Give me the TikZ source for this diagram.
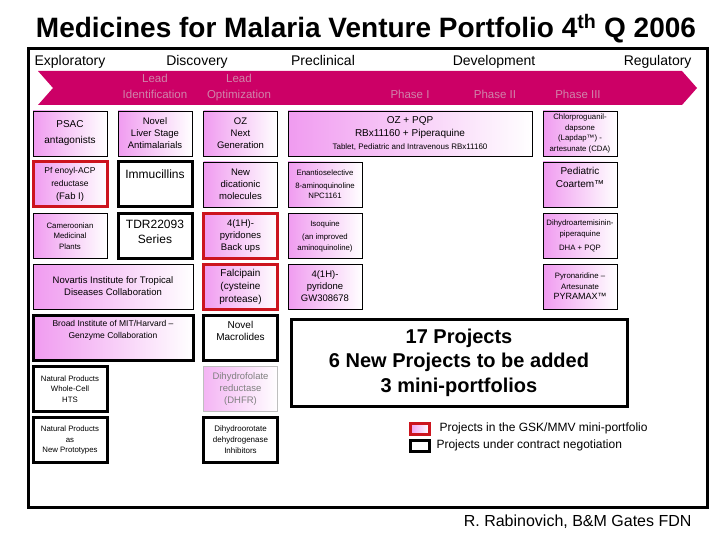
\documentclass[tikz,border=0pt]{standalone}
\usepackage{fontspec}
\setmainfont{Liberation Sans}
\usepackage{xcolor}
\definecolor{arrowpink}{RGB}{204,0,102}
\definecolor{boxpink}{RGB}{240,155,240}
\definecolor{keyred}{RGB}{204,20,30}
\definecolor{subtext}{RGB}{208,132,170}
\usetikzlibrary{positioning}
% text pushed to the top of a cell
\newcommand{\uptext}[3][70pt]{\parbox[c][#2][t]{#1}{\centering #3}}

\begin{document}
\begin{tikzpicture}[x=1pt,y=-1pt]
  \tikzset{
    cell/.style={minimum width=74pt,minimum height=45pt,inner sep=1pt,
      align=center,font=\fontsize{9.5}{12}\selectfont},
    plainbox/.style={cell,draw,line width=0.8pt,left color=boxpink,right color=white},
    redbox/.style={cell,draw=keyred,line width=3pt,left color=boxpink,right color=white},
    blackbox/.style={cell,draw,line width=3pt,fill=white},
    greybox/.style={cell,draw=gray!50,line width=0.8pt,left color=boxpink!75,
      right color=white,text=gray},
    tiny/.style={font=\fontsize{7.8}{10.5}\selectfont},
    stage/.style={anchor=base,font=\fontsize{14}{16}\selectfont},
    substage/.style={anchor=base,text=subtext,align=center,
      font=\fontsize{11.5}{16}\selectfont},
  }
  \useasboundingbox (0,0) rectangle (720,540);

  \node[anchor=base,font=\fontsize{28}{30}\selectfont\bfseries] (title) at (366,37.5)
    {Medicines for Malaria Venture Portfolio 4\textsuperscript{th} Q 2006};

  \draw[line width=3pt] (28,49) rectangle (707,507);

  % pipeline arrow
  \fill[arrowpink] (38,71) -- (682,71) -- (697,88) -- (682,105) -- (38,105) -- (53,88) -- cycle;

  \node[stage] (expl) at (70,66) {Exploratory};
  \node[stage] (disc) at (197,66) {Discovery};
  \node[stage] (precl) at (323,66) {Preclinical};
  \node[stage] (devel) at (494,66) {Development};
  \node[stage,anchor=base east] (regul) at (695,66) {Regulatory};

  \node[substage] (leadid) at (155,99) {Lead\\Identification};
  \node[substage] (leadopt) at (239,99) {Lead\\Optimization};
  \node[substage] (ph1) at (410,99) {Phase I};
  \node[substage] (ph2) at (495,99) {Phase II};
  \node[substage] (ph3) at (578,99) {Phase III};

  % row 1
  \node[plainbox,font=\fontsize{10}{16}\selectfont] (psac) at (70,133.5) {PSAC\\antagonists};
  \node[plainbox] (liver) at (155,133.5) {Novel\\Liver Stage\\Antimalarials};
  \node[plainbox] (ozng) at (240.5,133.5) {OZ\\Next\\Generation};
  \node[plainbox,minimum width=244pt,font=\fontsize{10}{13}\selectfont] (ozpqp) at (410,133.5)
    {OZ + PQP\\RBx11160 + Piperaquine\\{\fontsize{8}{10}\selectfont Tablet, Pediatric and Intravenous RBx11160}};
  \node[plainbox,tiny] (cda) at (580,133.5)
    {Chlorproguanil-\\dapsone\\(Lapdap™) -\\artesunate (CDA)};

  % row 2
  \node[redbox,font=\fontsize{8.5}{13}\selectfont] (fabi) at (70,184.5)
    {Pf enoyl-ACP\\reductase\\{\fontsize{9.5}{13}\selectfont (Fab I)}};
  \node[blackbox,font=\fontsize{12}{15}\selectfont] (immu) at (155,184.5)
    {\uptext{30pt}{Immucillins}};
  \node[plainbox] (dicat) at (240.5,184.5) {New\\dicationic\\molecules};
  \node[plainbox,tiny] (enantio) at (325,184.5)
    {Enantioselective\\[2pt]8-aminoquinoline\\NPC1161};
  \node[plainbox,font=\fontsize{10}{13}\selectfont] (coartem) at (580,184.5)
    {\uptext{35pt}{Pediatric\\Coartem™}};

  % row 3
  \node[plainbox,tiny] (camer) at (70,236) {Cameroonian\\Medicinal\\Plants};
  \node[blackbox,font=\fontsize{12}{15}\selectfont] (tdr) at (155,236)
    {\uptext{32pt}{TDR22093\\Series}};
  \node[redbox] (pyrbk) at (240.5,236) {4(1H)-\\pyridones\\Back ups};
  \node[plainbox,tiny] (isoq) at (325,236)
    {Isoquine\\[3pt](an improved\\aminoquinoline)};
  \node[plainbox,tiny] (dhapqp) at (580,236)
    {Dihydroartemisinin-\\piperaquine\\[4pt]DHA + PQP};

  % row 4
  \node[plainbox,minimum width=160pt] (novartis) at (113,286.5)
    {Novartis Institute for Tropical\\Diseases Collaboration};
  \node[redbox,font=\fontsize{10}{13}\selectfont] (falci) at (240.5,286.5)
    {Falcipain\\(cysteine\\protease)};
  \node[plainbox] (gw) at (325,286.5) {4(1H)-\\pyridone\\GW308678};
  \node[plainbox,tiny] (pyramax) at (580,286.5)
    {Pyronaridine --\\Artesunate\\{\fontsize{9}{12}\selectfont PYRAMAX™}};

  % row 5
  \node[cell,draw,line width=3pt,left color=boxpink,right color=white,
    minimum width=160pt,font=\fontsize{8.5}{12}\selectfont] (broad) at (113,338)
    {\uptext[156pt]{36pt}{Broad Institute of MIT/Harvard --\\Genzyme Collaboration}};
  \node[blackbox,font=\fontsize{10}{12}\selectfont] (macro) at (240.5,338)
    {\uptext{33pt}{Novel\\Macrolides}};

  \node[draw,line width=3pt,fill=white,minimum width=336pt,minimum height=87pt,
    align=center,font=\fontsize{20}{24.5}\selectfont\bfseries] (summary) at (459,362.5)
    {17 Projects\\6 New Projects to be added\\3 mini-portfolios};

  % rows 6 and 7
  \node[blackbox,tiny] (npwc) at (70,389) {Natural Products\\Whole-Cell\\HTS};
  \node[greybox] (dhfr) at (240.5,389) {Dihydrofolate\\reductase\\(DHFR)};
  \node[blackbox,tiny] (npnp) at (70,440) {Natural Products\\as\\New Prototypes};
  \node[blackbox,font=\fontsize{8}{11}\selectfont] (dhodh) at (240.5,440)
    {Dihydroorotate\\dehydrogenase\\Inhibitors};

  % legend
  \node[draw=keyred,line width=3pt,left color=boxpink,right color=white,
    minimum width=19pt,minimum height=11pt,inner sep=0pt] (redkey) at (419.5,428.5) {};
  \node[draw,line width=3pt,fill=white,
    minimum width=19pt,minimum height=11pt,inner sep=0pt] (blackkey) at (419.5,445.5) {};
  \node[anchor=west,font=\fontsize{12}{14}\selectfont] (redtxt) at (436,428.5)
    {Projects in the GSK/MMV mini-portfolio};
  \node[anchor=west,font=\fontsize{12}{14}\selectfont] (blacktxt) at (433,445.5)
    {Projects under contract negotiation};

  \node[anchor=east,font=\fontsize{16}{18}\selectfont] (credit) at (695,522)
    {R. Rabinovich, B\&M Gates FDN};
\end{tikzpicture}
\end{document}
